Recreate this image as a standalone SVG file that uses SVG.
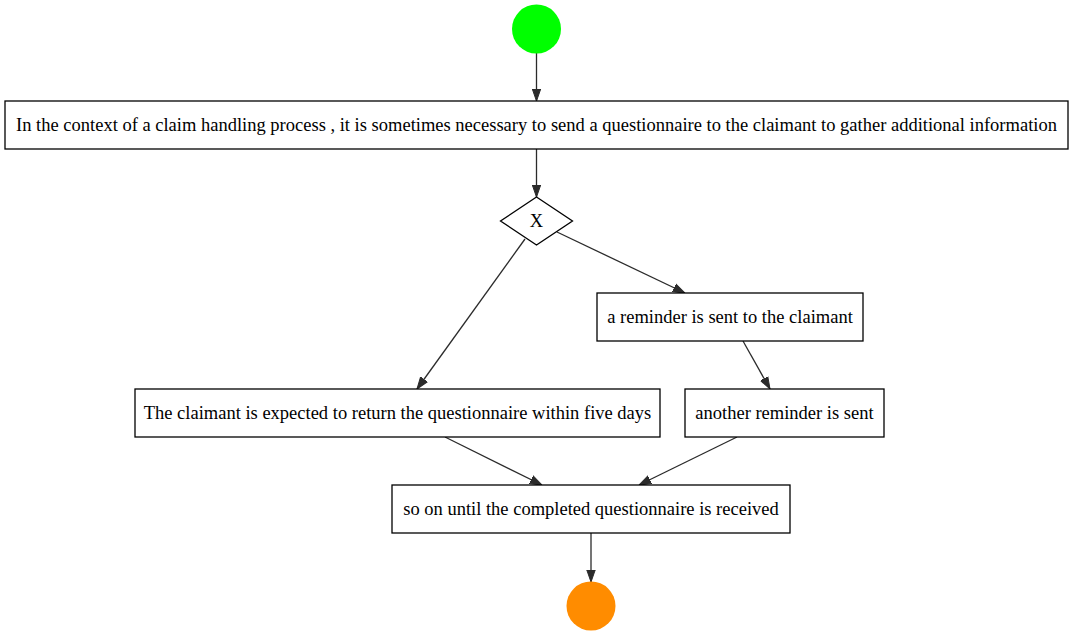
<svg xmlns="http://www.w3.org/2000/svg" width="1073" height="635" viewBox="0 0 1073 635">
  <style>
    .box { fill: #ffffff; stroke: #000000; stroke-width: 1.3; }
    .lbl { font-family: "Liberation Serif", "Times New Roman", serif; font-size: 18.5px; fill: #000000; text-anchor: middle; }
    .edge { stroke: #2b2b2b; stroke-width: 1.3; fill: none; marker-end: url(#arrow); }
  </style>
  <defs>
    <marker id="arrow" viewBox="0 0 12 10" refX="12" refY="5" markerWidth="12" markerHeight="10" markerUnits="userSpaceOnUse" orient="auto">
      <path d="M0,0.8 L12,5 L0,9.2 Z" fill="#2b2b2b" stroke="#2b2b2b" stroke-width="1"/>
    </marker>
  </defs>
  <rect width="1073" height="635" fill="#ffffff"/>

  <g id="connectors">
    <line class="edge" x1="536.5" y1="53" x2="536.5" y2="101"/>
    <line class="edge" x1="536.5" y1="149" x2="536.5" y2="197"/>
    <line class="edge" x1="525" y1="239" x2="417" y2="389"/>
    <line class="edge" x1="557" y1="232" x2="685" y2="293"/>
    <line class="edge" x1="743" y1="341" x2="770" y2="389"/>
    <line class="edge" x1="445" y1="437" x2="542" y2="485"/>
    <line class="edge" x1="737" y1="437" x2="639" y2="485"/>
    <line class="edge" x1="591" y1="533" x2="591" y2="582"/>
  </g>

  <g id="start">
    <circle cx="536.5" cy="29" r="24.5" fill="#00ff00"/>
  </g>

  <g id="context">
    <rect class="box" x="5" y="101" width="1063" height="48"/>
    <text class="lbl" x="536.5" y="131">In the context of a claim handling process , it is sometimes necessary to send a questionnaire to the claimant to gather additional information</text>
  </g>

  <g id="gateway">
    <polygon class="box" points="536.5,197 572.5,221 536.5,245 500.5,221"/>
    <text class="lbl" x="536.5" y="227">X</text>
  </g>

  <g id="reminder">
    <rect class="box" x="597" y="293" width="266" height="48"/>
    <text class="lbl" x="730" y="323">a reminder is sent to the claimant</text>
  </g>

  <g id="expected">
    <rect class="box" x="135" y="389" width="525" height="48"/>
    <text class="lbl" x="397.5" y="419">The claimant is expected to return the questionnaire within five days</text>
  </g>

  <g id="another">
    <rect class="box" x="685" y="389" width="199" height="48"/>
    <text class="lbl" x="784.5" y="419">another reminder is sent</text>
  </g>

  <g id="until">
    <rect class="box" x="392" y="485" width="398" height="48"/>
    <text class="lbl" x="591" y="515">so on until the completed questionnaire is received</text>
  </g>

  <g id="end">
    <circle cx="591" cy="606" r="24.5" fill="#ff8c00"/>
  </g>
</svg>
